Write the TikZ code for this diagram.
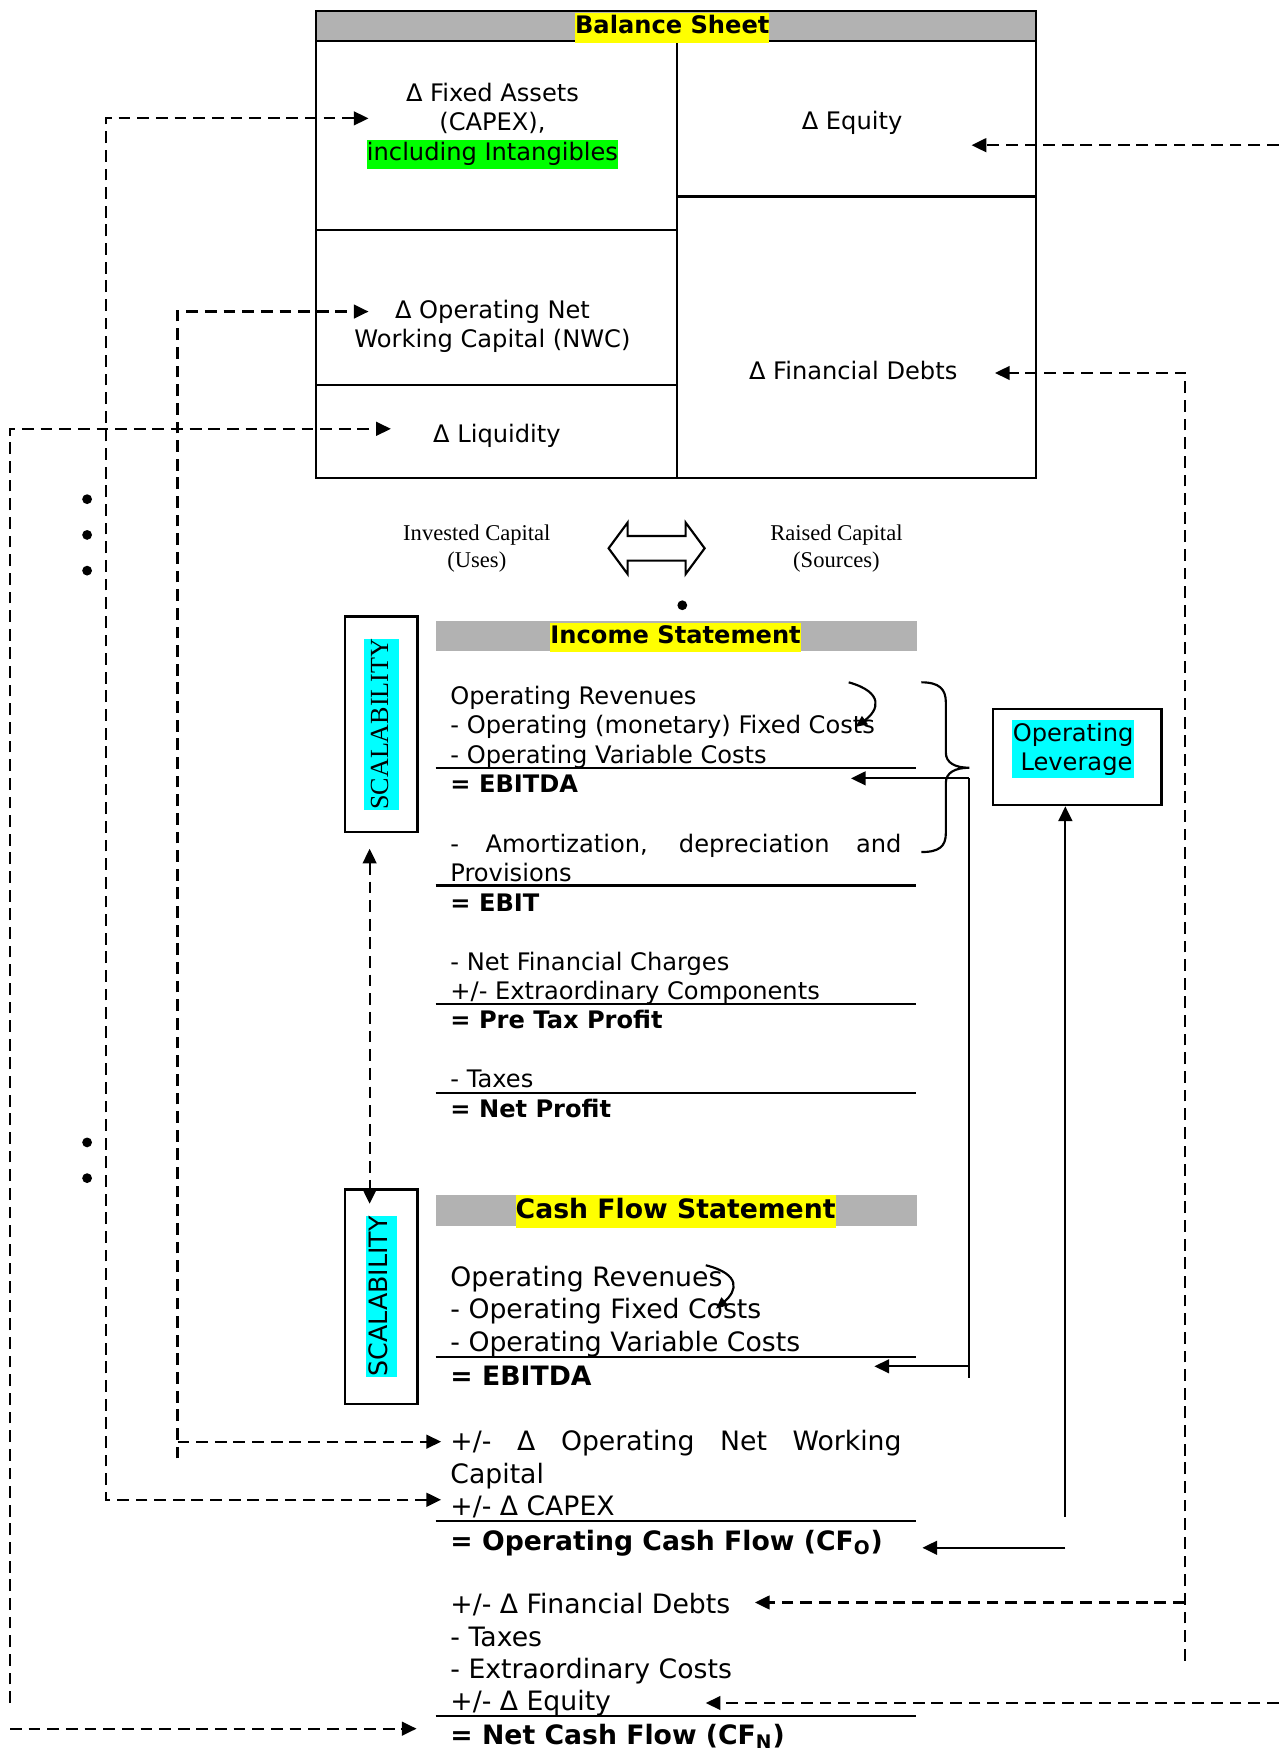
\documentclass[tikz,border=0pt]{standalone}
\usepackage{fontspec}
\setmainfont{DejaVu Sans}
\newfontfamily\timesfont{Liberation Serif}
\usetikzlibrary{arrows.meta}

\definecolor{band}{RGB}{178,178,178}
\definecolor{hlyellow}{RGB}{255,255,0}
\definecolor{hlgreen}{RGB}{0,255,0}
\definecolor{hlcyan}{RGB}{0,255,255}

\newcommand{\bsfont}{\fontsize{12.3}{15}\selectfont}
\newcommand{\cffont}{\fontsize{13.6}{16.5}\selectfont}
\newcommand{\hilite}[2]{{\setlength{\fboxsep}{0pt}\colorbox{#1}{\strut #2}}}

\begin{document}
\begin{tikzpicture}[x=0.02cm,y=-0.02cm,
  box/.style={draw,line width=1.2pt},
  txt/.style={inner sep=0pt,font=\bsfont},
  ln/.style={inner sep=0pt,anchor=base west,font=\bsfont},
  cf/.style={inner sep=0pt,anchor=base west,font=\cffont},
  rule/.style={line width=1.1pt},
  sline/.style={line width=1.1pt},
  dline/.style={line width=1.1pt,dash pattern=on 6pt off 3.5pt},
  arr/.style={-{Triangle[length=7.5pt,width=7pt]}},
  arr2/.style={{Triangle[length=7.5pt,width=7pt]}-{Triangle[length=7.5pt,width=7pt]}},
  carr/.style={-{Triangle[length=6pt,width=5pt]}}]
\useasboundingbox (0,0) rectangle (1145,1568);

% balance sheet
\fill[band] (283,10) rectangle (928,37);
\draw[box] (283,10) rectangle (928,428);
\draw[box] (283,37) -- (928,37);
\draw[box] (606,37) -- (606,428);
\draw[box] (283,206) -- (606,206);
\draw[box] (283,345) -- (606,345);
\draw[box] (606,176) -- (928,176);
\node [txt] (bs) at (602,25) {\hilite{hlyellow}{\textbf{Balance Sheet}}};

\node [txt,align=center] (fa) at (441,113) {Δ Fixed Assets\\(CAPEX),\\\hilite{hlgreen}{including Intangibles}};
\node [txt] (eq) at (763,110) {Δ Equity};
\node [txt,align=center] (nwc) at (441,292) {Δ Operating Net\\Working Capital (NWC)};
\node [txt] (liq) at (445,390) {Δ Liquidity};
\node [txt] (fd) at (764,332) {Δ Financial Debts};

\node [inner sep=0pt,align=center,font=\timesfont\fontsize{11.5}{13.7}\selectfont] (uses) at (427,491) {Invested Capital\\(Uses)};
\node [inner sep=0pt,align=center,font=\timesfont\fontsize{11.5}{13.7}\selectfont] (sources) at (749,491) {Raised Capital\\(Sources)};
\draw[sline] (545,491) -- (562,468) -- (562,480) -- (614,480) -- (614,468) -- (631,491)
  -- (614,514) -- (614,502) -- (562,502) -- (562,514) -- cycle;

\fill (78,447) circle[radius=2.5pt];
\fill (78,479) circle[radius=2.5pt];
\fill (78,511) circle[radius=2.5pt];
\fill (78,1023) circle[radius=2.5pt];
\fill (78,1055) circle[radius=2.5pt];
\fill (611,542) circle[radius=2.5pt];

% income statement
\fill[band] (390,556) rectangle (821,583);
\node [txt] (is) at (605,571) {\hilite{hlyellow}{\textbf{Income Statement}}};
\node [ln] (isrev) at (403,631) {Operating Revenues};
\node [ln] (isfix) at (403,657) {- Operating (monetary) Fixed Costs};
\node [ln] (isvar) at (403,684) {- Operating Variable Costs};
\node [ln] (isebitda) at (403,710) {\textbf{= EBITDA}};
\node [ln] (isam) at (403,763) {\makebox[8.08cm][s]{- Amortization, depreciation and}};
\node [ln] (isprov) at (403,789) {Provisions};
\node [ln] (isebit) at (403,816) {\textbf{= EBIT}};
\node [ln] (isfin) at (403,869) {- Net Financial Charges};
\node [ln] (isext) at (403,895) {+/- Extraordinary Components};
\node [ln] (ispre) at (403,921) {\textbf{= Pre Tax Profit}};
\node [ln] (istax) at (403,974) {- Taxes};
\node [ln] (isnet) at (403,1001) {\textbf{= Net Profit}};
\draw[rule] (390,688) -- (820,688);
\draw[rule] (390,793) -- (820,793);
\draw[rule] (390,899) -- (820,899);
\draw[rule] (390,979) -- (820,979);

\coordinate (iscurl) at (760,611);
\coordinate (iscurlend) at (766,651);
\draw[sline,carr] (iscurl) .. controls (792,620) and (787,636) .. (iscurlend);

\draw[sline] (825,611) .. controls (841,611) and (847,617) .. (847,629) -- (847,674)
  .. controls (847,683) and (855,687.5) .. (868,687.5)
  .. controls (855,687.5) and (847,692) .. (847,701) -- (847,746)
  .. controls (847,758) and (841,763) .. (825,763);

% cash flow statement
\fill[band] (390,1070) rectangle (821,1098);
\node [inner sep=0pt,font=\cffont] (cfs) at (605,1085) {\hilite{hlyellow}{\textbf{Cash Flow Statement}}};
\node [cf] (cfrev) at (403,1152) {Operating Revenues};
\node [cf] (cffix) at (403,1181) {- Operating Fixed Costs};
\node [cf] (cfvar) at (403,1210) {- Operating Variable Costs};
\node [cf] (cfebitda) at (403,1241) {\textbf{= EBITDA}};
\node [cf] (cfnwc) at (403,1299) {\makebox[8.08cm][s]{+/- Δ Operating Net Working}};
\node [cf] (cfcap) at (403,1328) {Capital};
\node [cf] (cfcapex) at (403,1357) {+/- Δ CAPEX};
\node [cf] (cfop) at (403,1388) {\textbf{= Operating Cash Flow (CF\textsubscript{O})}};
\node [cf] (cffd) at (403,1445) {+/- Δ Financial Debts};
\node [cf] (cftax) at (403,1474) {- Taxes};
\node [cf] (cfext) at (403,1503) {- Extraordinary Costs};
\node [cf] (cfeq) at (403,1532) {+/- Δ Equity};
\node [cf] (cfnet) at (403,1562) {\textbf{= Net Cash Flow (CF\textsubscript{N})}};
\draw[rule] (390,1215) -- (820,1215);
\draw[rule] (390,1362) -- (820,1362);
\draw[rule] (390,1537) -- (820,1537);

\coordinate (cfcurl) at (632,1133);
\coordinate (cfcurlend) at (641,1172);
\draw[sline,carr] (cfcurl) .. controls (664,1141) and (660,1156) .. (cfcurlend);

% scalability
\node [box,rotate=90,minimum width=3.86cm,minimum height=1.3cm,inner sep=0pt,font=\timesfont\fontsize{13.3}{17.5}\selectfont] (scal1) at (341.5,648.5) {\hilite{hlcyan}{SCALABILITY}};
\node [box,rotate=90,minimum width=3.84cm,minimum height=1.3cm,inner sep=0pt,font=\fontsize{12.9}{16}\selectfont] (scal2) at (341.5,1161) {\hilite{hlcyan}{SCALABILITY}};
\coordinate (scup) at (331,760);
\coordinate (scdown) at (331,1078);
\draw[dline,arr2] (scup) -- (scdown);

% operating leverage
\node [box,minimum width=3.02cm,minimum height=1.72cm] (lev) at (964.5,678) {};
\node [txt,fill=hlcyan,align=left,inner xsep=0.5pt,inner ysep=1.3pt] (levtxt) at (961,671) {Operating\\\hspace*{.32em}Leverage};

\coordinate (ebtop) at (868,697);
\coordinate (ebbot) at (868,1234);
\coordinate (isebin) at (762,697);
\coordinate (cfebin) at (783,1223.5);
\draw[sline] (ebtop) -- (ebbot);
\draw[sline,arr] (ebtop) -- (isebin);
\draw[sline,arr] (ebbot |- cfebin) -- (cfebin);

\coordinate (levfoot) at (954,1358);
\coordinate (cfopfrom) at (954,1386);
\coordinate (cfopin) at (826,1386);
\draw[sline,arr] (levfoot) -- (levfoot |- lev.south);
\draw[sline,arr] (cfopfrom) -- (cfopin);

% dashed links balance sheet <-> cash flow
\coordinate (fain) at (330,106);
\coordinate (facorner) at (95,106);
\coordinate (cfcapexin) at (395,1343);
\draw[dline,arr2] (cfcapexin) -| (facorner) -- (fain);

\coordinate (nwcin) at (330,279);
\coordinate (nwccorner) at (159,279);
\coordinate (nwcend) at (159,1306);
\coordinate (cfnwcin) at (395,1291);
\draw[dline,arr] (nwcend) -- (nwccorner) -- (nwcin);
\draw[dline,arr] (nwcend |- cfnwcin) -- (cfnwcin);

\coordinate (liqin) at (350,384);
\coordinate (liqcorner) at (9,384);
\coordinate (liqend) at (9,1525);
\coordinate (cfnetin) at (373,1548);
\draw[dline,arr] (liqend) -- (liqcorner) -- (liqin);
\draw[dline,arr] (liqend |- cfnetin) -- (cfnetin);

\coordinate (eqedge) at (1145,130);
\coordinate (eqin) at (870,130);
\coordinate (cfeqedge) at (1145,1525);
\coordinate (cfeqin) at (632,1525);
\draw[dline,arr] (eqedge) -- (eqin);
\draw[dline,arr] (cfeqedge) -- (cfeqin);

\coordinate (fdin) at (891,334);
\coordinate (fdcorner) at (1061,334);
\coordinate (fdend) at (1061,1487);
\coordinate (cffdin) at (676,1435);
\draw[dline,arr] (fdend) -- (fdcorner) -- (fdin);
\draw[dline,arr] (fdend |- cffdin) -- (cffdin);

\end{tikzpicture}
\end{document}
